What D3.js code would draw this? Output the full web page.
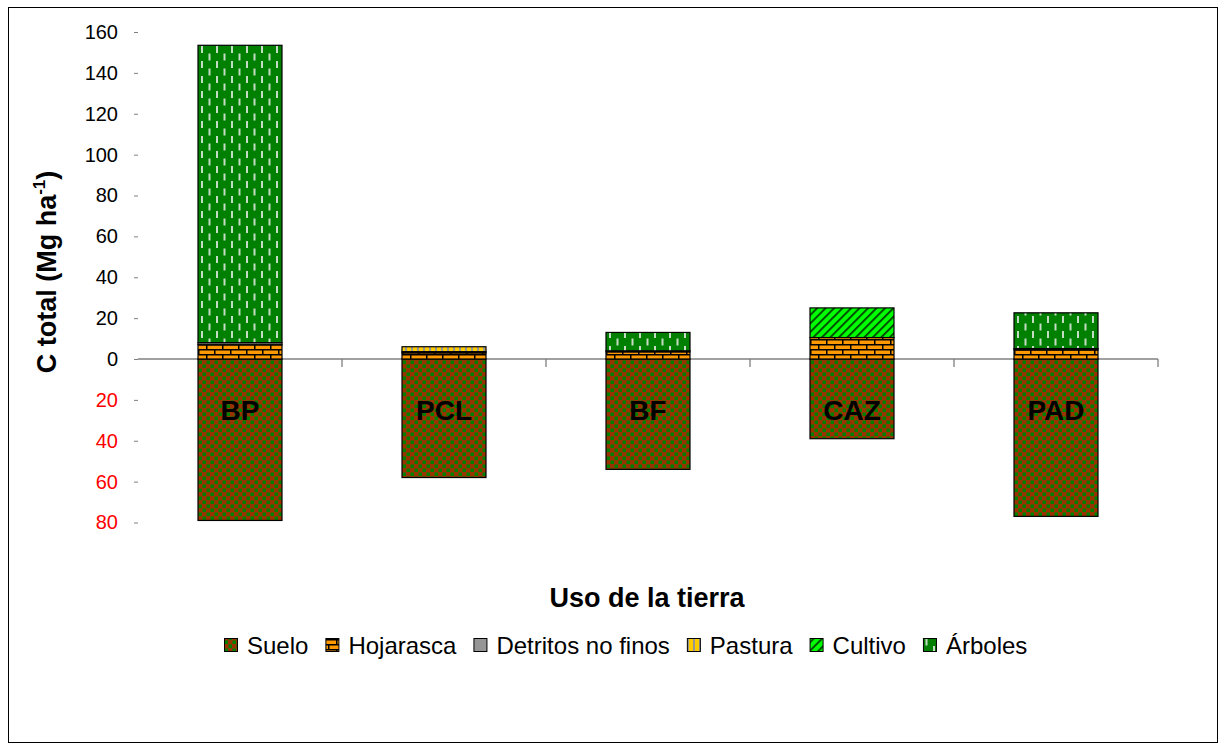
<!DOCTYPE html>
<html>
<head>
<meta charset="utf-8">
<script src="https://cdn.jsdelivr.net/npm/d3@7/dist/d3.min.js"></script>
<style>
  body { margin: 0; background: #fff; }
  svg { font-family: Arial, "Liberation Sans", sans-serif; }
</style>
</head>
<body>
<script>
// categories and series (Mg ha-1)
var categories = ["BP", "PCL", "BF", "CAZ", "PAD"];
var suelo     = [79, 58, 54, 39, 77];      // drawn below zero
var hojarasca = [7, 3, 3.5, 10.5, 4.5];
var detritos  = [1, 0.6, 0.5, 0, 0.6];
var pastura   = [0, 2.4, 0, 0, 0];
var cultivo   = [0, 0, 0, 14.5, 0];
var arboles   = [145.5, 0, 9, 0, 17.5];
var yTicks = [-80, -60, -40, -20, 0, 20, 40, 60, 80, 100, 120, 140, 160];
var legendNames = ["Suelo", "Hojarasca", "Detritos no finos", "Pastura", "Cultivo", "Árboles"];

var width = 1225, height = 751;

var svg = d3.select("body").append("svg")
    .attr("width", width)
    .attr("height", height);

// patterns
var defs = svg.append("defs");

var p = defs.append("pattern").attr("id", "pSuelo")
    .attr("patternUnits", "userSpaceOnUse").attr("width", 8).attr("height", 8);
p.append("rect").attr("width", 8).attr("height", 8).attr("fill", "#993300");
p.append("rect").attr("x", 0.5).attr("y", 0.5).attr("width", 3.5).attr("height", 3.5).attr("fill", "#008000");
p.append("rect").attr("x", 4.5).attr("y", 4.5).attr("width", 3.5).attr("height", 3.5).attr("fill", "#008000");

p = defs.append("pattern").attr("id", "pHoja")
    .attr("patternUnits", "userSpaceOnUse").attr("width", 16).attr("height", 10)
    .attr("y", 359);
p.append("rect").attr("width", 16).attr("height", 10).attr("fill", "#ff9900");
p.append("rect").attr("y", 0).attr("width", 16).attr("height", 1.5).attr("fill", "#000");
p.append("rect").attr("y", 5).attr("width", 16).attr("height", 1.5).attr("fill", "#000");
p.append("rect").attr("x", 0).attr("y", 0).attr("width", 1.5).attr("height", 5).attr("fill", "#000");
p.append("rect").attr("x", 8).attr("y", 5).attr("width", 1.5).attr("height", 5).attr("fill", "#000");

p = defs.append("pattern").attr("id", "pPast")
    .attr("patternUnits", "userSpaceOnUse").attr("width", 6).attr("height", 6);
p.append("rect").attr("width", 6).attr("height", 6).attr("fill", "#ffcc00");
p.append("rect").attr("x", 3).attr("width", 2).attr("height", 6).attr("fill", "#969696");

p = defs.append("pattern").attr("id", "pCult")
    .attr("patternUnits", "userSpaceOnUse").attr("width", 6).attr("height", 6)
    .attr("patternTransform", "rotate(45)");
p.append("rect").attr("width", 6).attr("height", 6).attr("fill", "#00ff00");
p.append("rect").attr("x", 0).attr("width", 1.8).attr("height", 6).attr("fill", "#004000");

p = defs.append("pattern").attr("id", "pArb")
    .attr("patternUnits", "userSpaceOnUse").attr("width", 15).attr("height", 15);
p.append("rect").attr("width", 15).attr("height", 15).attr("fill", "#008000");
p.append("rect").attr("x", 3).attr("y", 1).attr("width", 2).attr("height", 7).attr("fill", "#c4dcc4");
p.append("rect").attr("x", 10.5).attr("y", 8.5).attr("width", 2).attr("height", 7).attr("fill", "#c4dcc4");
p.append("rect").attr("x", 10.5).attr("y", -6.5).attr("width", 2).attr("height", 7).attr("fill", "#c4dcc4");

var fills = ["url(#pSuelo)", "url(#pHoja)", "#969696", "url(#pPast)", "url(#pCult)", "url(#pArb)"];

// outer frame
svg.append("rect")
    .attr("x", 8.5).attr("y", 7.5)
    .attr("width", 1209).attr("height", 735)
    .attr("fill", "none").attr("stroke", "#000").attr("stroke-width", 1);

// scales
var x = d3.scaleBand().domain(categories).range([138, 1158]).padding(0);
var y = d3.scaleLinear().domain([-80, 160]).range([522.5, 32]);
var barW = 84;

// y axis
var yAxis = svg.append("g")
    .attr("transform", "translate(138,0)")
    .call(d3.axisLeft(y).tickValues(yTicks).tickSize(4).tickPadding(16)
        .tickFormat(function (d) { return Math.abs(d); }));
yAxis.select(".domain").remove();
yAxis.selectAll(".tick line").attr("stroke", "#808080");
yAxis.selectAll(".tick text")
    .attr("font-size", 20)
    .attr("font-family", "Arial, 'Liberation Sans', sans-serif")
    .attr("fill", function (d) { return d < 0 ? "#ff0000" : "#000"; });

// zero line with category ticks
var zero = svg.append("g");
zero.append("line")
    .attr("x1", 138).attr("x2", 1158)
    .attr("y1", y(0)).attr("y2", y(0))
    .attr("stroke", "#808080").attr("stroke-width", 1.3);
categories.forEach(function (c) {
    zero.append("line")
        .attr("x1", x(c) + x.bandwidth()).attr("x2", x(c) + x.bandwidth())
        .attr("y1", y(0)).attr("y2", y(0) + 8)
        .attr("stroke", "#808080").attr("stroke-width", 1.3);
});

// stacked segments
var rows = categories.map(function (c, i) {
    var segs = [];
    segs.push({ k: 0, y0: -suelo[i], y1: 0 });
    var base = 0;
    [hojarasca[i], detritos[i], pastura[i], cultivo[i], arboles[i]].forEach(function (v, j) {
        if (v > 0) segs.push({ k: j + 1, y0: base, y1: base + v });
        base += v;
    });
    return { c: c, segs: segs };
});

var bars = svg.selectAll(".bar")
    .data(rows)
    .enter().append("g")
    .attr("class", "bar")
    .attr("transform", function (d) {
        return "translate(" + (x(d.c) + x.bandwidth() / 2 - barW / 2) + ",0)";
    });

bars.selectAll("rect")
    .data(function (d) { return d.segs; })
    .enter().append("rect")
    .attr("x", 0)
    .attr("width", barW)
    .attr("y", function (d) { return y(d.y1); })
    .attr("height", function (d) { return y(d.y0) - y(d.y1); })
    .attr("fill", function (d) { return fills[d.k]; })
    .attr("stroke", "#000")
    .attr("stroke-width", 1.2);

// category labels inside the soil bars
svg.selectAll(".catlabel")
    .data(categories)
    .enter().append("text")
    .attr("class", "catlabel")
    .attr("x", function (d) { return x(d) + x.bandwidth() / 2; })
    .attr("y", 420)
    .attr("text-anchor", "middle")
    .attr("font-size", 28)
    .attr("font-weight", "bold")
    .text(function (d) { return d; });

// axis titles
var yt = svg.append("text")
    .attr("transform", "translate(56,272) rotate(-90)")
    .attr("text-anchor", "middle")
    .attr("font-size", 27)
    .attr("font-weight", "bold");
yt.append("tspan").text("C total (Mg ha");
yt.append("tspan").attr("dy", -11).attr("font-size", 17).text("-1");
yt.append("tspan").attr("dy", 11).text(")");

svg.append("text")
    .attr("x", 647).attr("y", 607)
    .attr("text-anchor", "middle")
    .attr("font-size", 27)
    .attr("font-weight", "bold")
    .text("Uso de la tierra");

// legend
var legend = svg.append("g");
var lx = 224;
legendNames.forEach(function (name, i) {
    legend.append("rect")
        .attr("x", lx + 0.5).attr("y", 638.5)
        .attr("width", 13).attr("height", 13)
        .attr("fill", fills[i])
        .attr("stroke", "#000").attr("stroke-width", 1);
    var t = legend.append("text")
        .attr("x", lx + 23).attr("y", 654)
        .attr("font-size", 24)
        .text(name);
    lx += 23 + t.node().getComputedTextLength() + 17;
});
</script>
</body>
</html>
